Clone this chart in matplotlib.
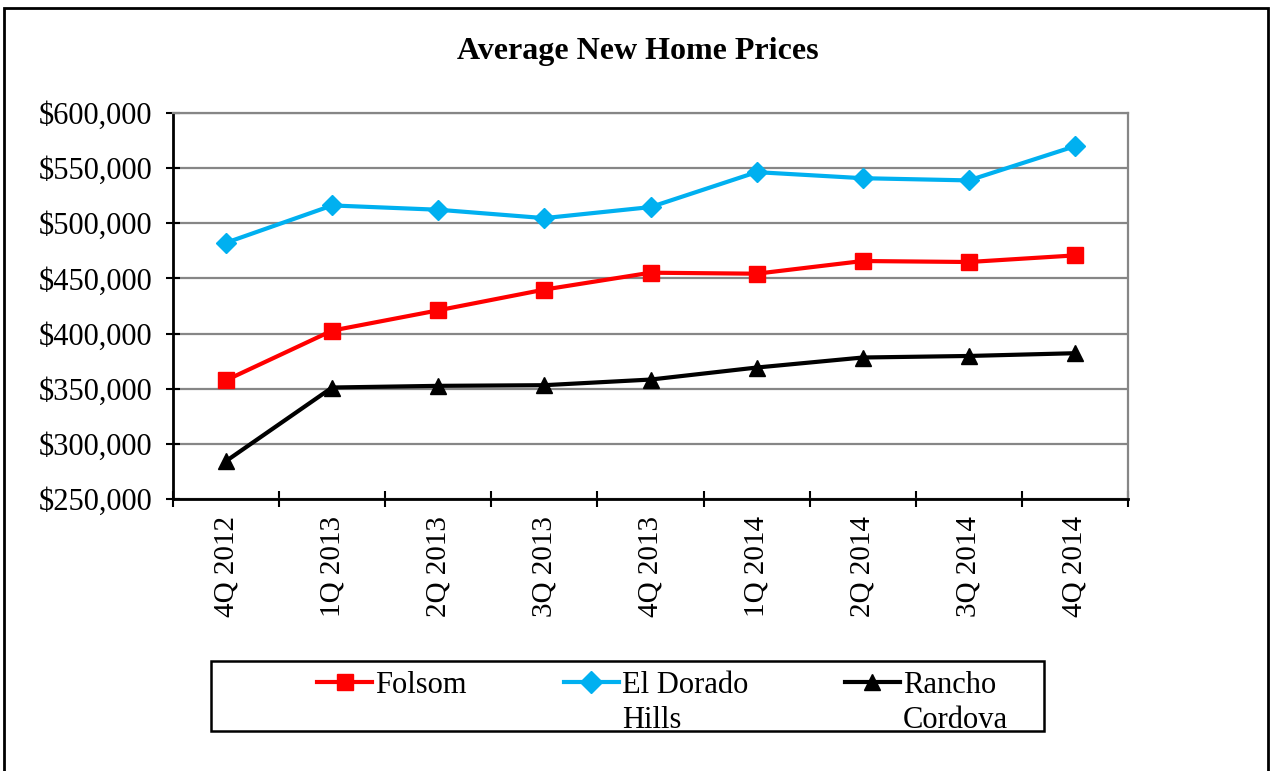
import matplotlib.pyplot as plt
from matplotlib.patches import Rectangle
from matplotlib.ticker import FuncFormatter, FixedLocator

# ========= DATA =========
quarters = ["4Q 2012", "1Q 2013", "2Q 2013", "3Q 2013", "4Q 2013",
            "1Q 2014", "2Q 2014", "3Q 2014", "4Q 2014"]

folsom = [357700, 402700, 421100, 439900, 455200, 454300, 465800, 464900, 470900]
el_dorado_hills = [482400, 516200, 512300, 504700, 514700, 546400, 540900, 538900, 569900]
rancho_cordova = [284400, 351100, 352600, 353200, 358300, 369200, 378300, 379700, 382200]
# ========================

plt.rcParams["font.family"] = ["Liberation Serif", "DejaVu Serif"]
FS = 22

fig = plt.figure(figsize=(12.73, 7.71), dpi=100)
ax = fig.add_axes([0.1359, 0.3528, 0.7502, 0.5006])

x = list(range(len(quarters)))

ax.plot(x, folsom, color="#FF0000", linewidth=3, marker="s", markersize=11,
        label="Folsom", zorder=3)
ax.plot(x, el_dorado_hills, color="#00B0F0", linewidth=3, marker="D", markersize=10,
        label="El Dorado", zorder=3)
ax.plot(x, rancho_cordova, color="black", linewidth=3, marker="^", markersize=12,
        label="Rancho", zorder=3)

# ---- axes ----
ax.set_xlim(-0.5, len(quarters) - 0.5)
ax.set_ylim(250000, 600000)
ax.set_yticks(range(250000, 600001, 50000))
ax.yaxis.set_major_formatter(FuncFormatter(lambda v, _: f"${v:,.0f}"))
ax.grid(axis="y", color="#868686", linewidth=1.6)
ax.set_axisbelow(True)

ax.set_xticks(x)
ax.set_xticklabels(quarters, rotation=90, fontsize=21)
ax.xaxis.set_minor_locator(FixedLocator([i - 0.5 for i in range(len(quarters) + 1)]))
ax.tick_params(axis="x", which="major", length=0, pad=12)
ax.tick_params(axis="x", which="minor", direction="inout", length=12, width=1.5)
ax.tick_params(axis="y", direction="inout", length=10, width=1.5, labelsize=FS, pad=10)

for side in ("left", "bottom"):
    ax.spines[side].set_color("black")
    ax.spines[side].set_linewidth(2)
for side in ("top", "right"):
    ax.spines[side].set_color("#868686")
    ax.spines[side].set_linewidth(1.6)

# ---- title ----
fig.text(0.501, 0.933, "Average New Home Prices", ha="center", va="center",
         fontsize=23, fontweight="bold")

# ---- legend ----
fig.add_artist(Rectangle((0.1657, 0.052), 0.6544, 0.091, transform=fig.transFigure,
                         fill=False, edgecolor="black", linewidth=1.8))
leg = fig.legend(loc="upper left", bbox_to_anchor=(0.247, 0.134, 0.538, 0.0),
                 mode="expand", ncol=3, fontsize=FS, frameon=False,
                 handlelength=1.8, handletextpad=0.1, borderpad=0.1,
                 borderaxespad=0, columnspacing=1.0)
for h in leg.legend_handles:
    h.set_markersize(11)

# second line of the wrapped legend labels
fig.canvas.draw()
extra = {"El Dorado": "Hills", "Rancho": "Cordova"}
for t in leg.get_texts():
    word = extra.get(t.get_text())
    if word:
        bb = t.get_window_extent().transformed(fig.transFigure.inverted())
        fig.text(bb.x0, bb.y0 - 0.008, word, ha="left", va="top", fontsize=FS)

# outer frame
fig.add_artist(Rectangle((0.003, -0.01), 0.993, 1.0, transform=fig.transFigure,
                         fill=False, edgecolor="black", linewidth=2))

fig.savefig("out.png", dpi=100)
